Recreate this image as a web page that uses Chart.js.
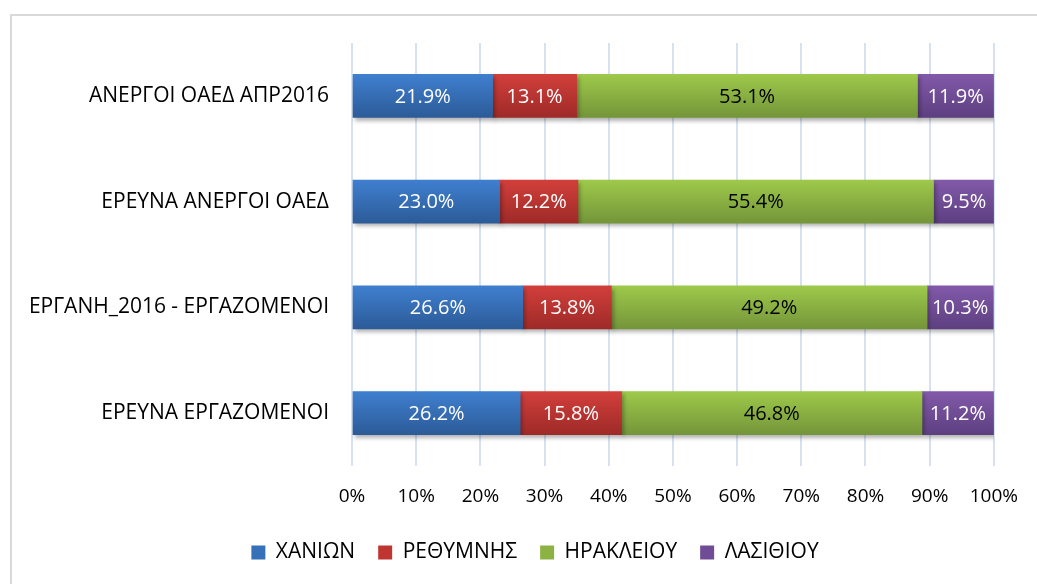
<!DOCTYPE html>
<html>
<head>
<meta charset="utf-8">
<script src="https://cdn.jsdelivr.net/npm/chart.js@4.4.0/dist/chart.umd.min.js"></script>
<style>
    body { margin: 0; overflow: hidden; background: #fff; }
    #frame { position: absolute; left: 10px; top: 14px; width: 1100px; height: 600px; border: 2px solid #d9d9d9; }
    #wrap { position: absolute; left: 0; top: 0; width: 1037px; height: 584px; }
</style>
</head>
<body>
<div id="frame"></div>
<div id="wrap"><canvas id="chart"></canvas></div>
<script>
// categories, top to bottom
const categories = ['ΑΝΕΡΓΟΙ ΟΑΕΔ ΑΠΡ2016', 'ΕΡΕΥΝΑ ΑΝΕΡΓΟΙ ΟΑΕΔ', 'ΕΡΓΑΝΗ_2016 - ΕΡΓΑΖΟΜΕΝΟΙ', 'ΕΡΕΥΝΑ ΕΡΓΑΖΟΜΕΝΟΙ'];
const seriesNames = ['ΧΑΝΙΩΝ', 'ΡΕΘΥΜΝΗΣ', 'ΗΡΑΚΛΕΙΟΥ', 'ΛΑΣΙΘΙΟΥ'];

// share in %
const chaniaValues = [21.9, 23.0, 26.6, 26.2];
const rethymnoValues = [13.1, 12.2, 13.8, 15.8];
const heraklionValues = [53.1, 55.4, 49.2, 46.8];
const lasithiValues = [11.9, 9.5, 10.3, 11.2];

const xTicks = [0, 10, 20, 30, 40, 50, 60, 70, 80, 90, 100];

const FONT = '"Open Sans", sans-serif';

function barFill(top, bottom) {
    return (ctx) => {
        const chart = ctx.chart;
        const y = chart.scales && chart.scales.y;
        if (ctx.type !== 'data' || !y || !chart.chartArea) return top;
        const c = y.getPixelForValue(ctx.dataIndex);
        const g = chart.ctx.createLinearGradient(0, c - 21.5, 0, c + 21.5);
        g.addColorStop(0, top);
        g.addColorStop(1, bottom);
        return g;
    };
}

const palette = [
    { top: '#3f7fcf', bottom: '#2c5b98', mid: '#3570b8', text: '#ffffff' },
    { top: '#d23f3b', bottom: '#9e2a28', mid: '#bf3532', text: '#ffffff' },
    { top: '#9ec94a', bottom: '#74953a', mid: '#8bb243', text: '#000000' },
    { top: '#8259a9', bottom: '#5d3f80', mid: '#704c96', text: '#ffffff' }
];
const seriesValues = [chaniaValues, rethymnoValues, heraklionValues, lasithiValues];

// drop shadow under the bars
const shadowPlugin = {
    id: 'barShadow',
    beforeDatasetsDraw(chart) {
        const c = chart.ctx;
        c.save();
        c.shadowColor = 'rgba(0,0,0,0.3)';
        c.shadowBlur = 4;
        c.shadowOffsetX = 2;
        c.shadowOffsetY = 3;
    },
    afterDatasetsDraw(chart) {
        chart.ctx.restore();
    }
};

// legend sits a bit right of the plot centre in the original
const legendShift = {
    id: 'legendShift',
    afterLayout(chart) {
        chart.legend.left += 34;
        chart.legend.right += 34;
    }
};

// value labels inside segments
const valueLabels = {
    id: 'valueLabels',
    afterDraw(chart) {
        const c = chart.ctx;
        c.save();
        c.font = '20px ' + FONT;
        c.textAlign = 'center';
        c.textBaseline = 'middle';
        chart.data.datasets.forEach((ds, i) => {
            const meta = chart.getDatasetMeta(i);
            meta.data.forEach((bar, j) => {
                c.fillStyle = palette[i].text;
                c.fillText(ds.data[j].toFixed(1) + '%', (bar.x + bar.base) / 2, bar.y + 1);
            });
        });
        c.restore();
    }
};

new Chart(document.getElementById('chart').getContext('2d'), {
    type: 'bar',
    data: {
        labels: categories,
        datasets: seriesNames.map((name, i) => ({
            label: name,
            data: seriesValues[i],
            backgroundColor: barFill(palette[i].top, palette[i].bottom),
            borderWidth: 0,
            barThickness: 43
        }))
    },
    options: {
        indexAxis: 'y',
        responsive: true,
        maintainAspectRatio: false,
        animation: false,
        layout: { padding: { left: 0, right: 35, top: 43, bottom: 11 } },
        scales: {
            x: {
                stacked: true,
                min: 0,
                max: 100,
                afterBuildTicks: (s) => { s.ticks = xTicks.map(v => ({ value: v })); },
                afterFit: (s) => { s.height = 53; },
                grid: { color: '#d6e1f1', lineWidth: 2, drawTicks: false },
                border: { display: false },
                ticks: {
                    padding: 19,
                    color: '#000',
                    font: { family: FONT, size: 19 },
                    callback: (v) => v + '%'
                }
            },
            y: {
                stacked: true,
                grid: { display: false, drawTicks: false },
                border: { display: false },
                afterFit: (s) => { s.width = 352; },
                ticks: {
                    padding: 23,
                    color: '#000',
                    font: { family: FONT, size: 21 }
                }
            }
        },
        plugins: {
            legend: {
                position: 'bottom',
                labels: {
                    color: '#000',
                    boxWidth: 14,
                    boxHeight: 14,
                    padding: 23,
                    font: { family: FONT, size: 21 },
                    generateLabels: (chart) => seriesNames.map((name, i) => ({
                        text: name,
                        fillStyle: palette[i].mid,
                        strokeStyle: palette[i].mid,
                        lineWidth: 0,
                        datasetIndex: i
                    }))
                }
            },
            tooltip: { enabled: false }
        }
    },
    plugins: [shadowPlugin, valueLabels, legendShift]
});
</script>
</body>
</html>
